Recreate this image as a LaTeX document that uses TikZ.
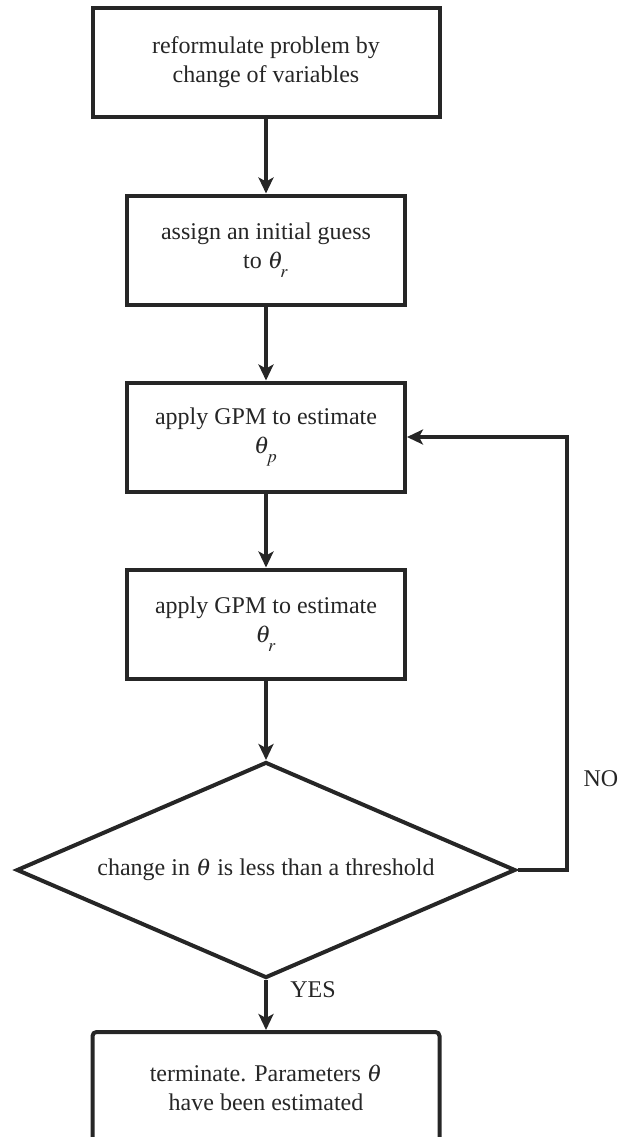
\documentclass[tikz,border=0pt]{standalone}
\usepackage{amsmath}
\usepackage{mathptmx}
\usepackage{fontspec}
\setmainfont{Liberation Serif}
\usepackage{tikz}
\usetikzlibrary{shapes.geometric,arrows.meta}

\newcommand{\thsub}[1]{\theta_{\raisebox{-2.5pt}{$\scriptstyle #1$}}}

\begin{document}
\begin{tikzpicture}[x=0.5pt, y=-0.5pt,
    every node/.style={font=\fontsize{12}{14.5}\selectfont, text=black!85},
    stepbox/.style={draw=black!85, line width=2pt, rectangle, align=center, inner sep=0pt},
    testbox/.style={draw=black!85, line width=2pt, diamond, aspect=2.3, inner sep=0pt,
        minimum width=249.5pt, minimum height=108pt},
    flow/.style={draw=black!85, line width=1.6pt, -{Stealth[length=8pt, width=7.5pt, inset=2pt]}}]
    % Page
    \clip (0,0) rectangle (618,1137);

    % Boxes
    \node[stepbox, minimum width=173.5pt, minimum height=54.5pt] (reform) at (266,62)
        {reformulate problem by\\change of variables};
    \node[stepbox, minimum width=139pt, minimum height=54.5pt] (guess) at (266,250)
        {assign an initial guess\\to $\thsub{r}$};
    \node[stepbox, minimum width=139pt, minimum height=54.5pt] (gpmp) at (266,437)
        {apply GPM to estimate\\$\thsub{p}$};
    \node[stepbox, minimum width=139pt, minimum height=54.5pt] (gpmr) at (266,624)
        {apply GPM to estimate\\$\thsub{r}$};

    % Test
    \node[testbox] (test) at (266,870) {change in $\theta$ is less than a threshold};

    % End box (runs off the page)
    \node[stepbox, rounded corners=2pt, minimum width=173.5pt, minimum height=56pt] (done) at (266,1088)
        {terminate. Parameters $\theta$\\have been estimated};

    % Arrows down
    \draw[flow] (reform) -- (guess);
    \draw[flow] (guess) -- (gpmp);
    \draw[flow] (gpmp) -- (gpmr);
    \draw[flow] (gpmr) -- (test);
    \draw[flow] (test) -- (done) node[pos=0.2, right=8pt] (yes) {YES};

    % Loop back
    \coordinate (back) at (567,437);
    \draw[flow] (test.east) -| (back) -- (gpmp.east);
    \node (no) at (601,779) {NO};

\end{tikzpicture}
\end{document}
